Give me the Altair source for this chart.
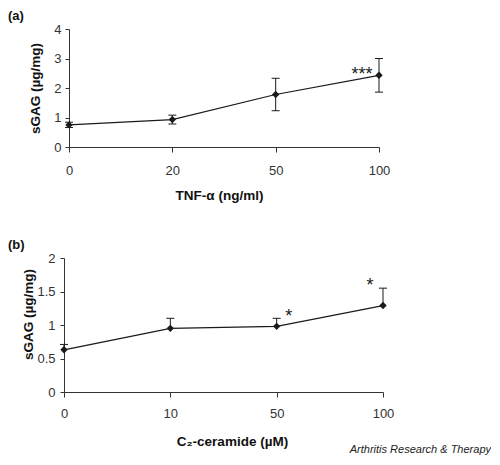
import altair as alt
import pandas as pd

# Panel (a): TNF-alpha
a_dose = ["0", "20", "50", "100"]
a_mean = [0.75, 0.93, 1.78, 2.43]
a_err = [0.09, 0.15, 0.55, 0.57]
a_ann_dose = ["100"]
a_ann_y = [2.45]
a_ann_text = ["***"]

# Panel (b): C2-ceramide
b_dose = ["0", "10", "50", "100"]
b_mean = [0.63, 0.95, 0.98, 1.29]
b_err = [0.08, 0.15, 0.12, 0.26]
b_ann_dose = ["50", "100"]
b_ann_y = [1.12, 1.58]
b_ann_text = ["*", "*"]

FONT = "Liberation Sans"
INK = "#1a1a1a"


def panel(doses, means, errs, both_sides, ann_dose, ann_y, ann_text, ann_dx,
          ymax, yvals, w, h, xrange, yoff, xtitle, xtitle_x, xtitle_y,
          ytitle_x, ytitle_y, tag, xlabpad, ylabpad, footer=None):
    df = pd.DataFrame({
        "dose": doses,
        "mean": means,
        "hi": [m + e for m, e in zip(means, errs)],
        "lo": [m - e if both_sides else m for m, e in zip(means, errs)],
    })
    xaxis = alt.Axis(
        title=xtitle, labelAngle=0, labelFont=FONT, labelFontSize=13,
        labelColor="#333", labelPadding=xlabpad, tickSize=5, tickColor="#333",
        domainColor="#333", titleFont=FONT, titleFontSize=13.5,
        titleFontWeight="bold", titleColor="#111", titleX=xtitle_x,
        titleY=xtitle_y, titleBaseline="middle", grid=False,
    )
    xscale = alt.Scale(type="point", padding=0, range=xrange)
    yscale = alt.Scale(domain=[0, ymax], nice=False)
    yaxis = alt.Axis(
        title="sGAG (µg/mg)", values=yvals, format="~g", offset=yoff,
        labelOverlap=False, labelFont=FONT, labelFontSize=13, labelColor="#333",
        labelPadding=ylabpad, tickSize=4, tickColor="#333", domainColor="#333",
        titleFont=FONT, titleFontSize=13.5, titleFontWeight="bold",
        titleColor="#111", titleX=ytitle_x, titleY=ytitle_y,
        titleBaseline="middle", grid=False,
    )

    def X():
        return alt.X("dose:O", sort=doses, scale=xscale, axis=xaxis)

    def Y(field):
        return alt.Y(field, type="quantitative", scale=yscale, axis=yaxis)

    base = alt.Chart(df)
    line = base.mark_line(color=INK, strokeWidth=1.2).encode(x=X(), y=Y("mean"))
    rule = base.mark_rule(color=INK, strokeWidth=1).encode(x=X(), y=Y("lo"), y2="hi:Q")
    cap_hi = base.mark_tick(color=INK, thickness=1, size=8, opacity=1).encode(
        x=X(), y=Y("hi"))
    layers = [line, rule, cap_hi]
    if both_sides:
        cap_lo = base.mark_tick(color=INK, thickness=1, size=8, opacity=1).encode(
            x=X(), y=Y("lo"))
        layers.append(cap_lo)
    pts = base.mark_point(shape="diamond", filled=True, size=55, color=INK,
                          opacity=1).encode(x=X(), y=Y("mean"))
    layers.append(pts)
    for d, yv, t, dx in zip(ann_dose, ann_y, ann_text, ann_dx):
        adf = pd.DataFrame({"dose": [d], "y": [yv], "t": [t]})
        layers.append(alt.Chart(adf).mark_text(
            font=FONT, fontSize=18, color=INK, dx=dx, baseline="middle").encode(
            x=X(), y=Y("y"), text="t:N"))
    tdf = pd.DataFrame({"t": [tag]})
    layers.append(alt.Chart(tdf).mark_text(
        font=FONT, fontSize=13, fontWeight="bold", color="#111",
        align="left", baseline="middle").encode(
        text="t:N", x=alt.value(-56), y=alt.value(-13)))
    if footer:
        fdf = pd.DataFrame({"t": [footer]})
        layers.append(alt.Chart(fdf).mark_text(
            font=FONT, fontSize=11, fontStyle="italic", color="#222",
            align="right", baseline="middle").encode(
            text="t:N", x=alt.value(427), y=alt.value(h + 58)))
    return alt.layer(*layers).properties(width=w, height=h)


top = panel(a_dose, a_mean, a_err, True, a_ann_dose, a_ann_y, a_ann_text, [-17],
            4, [0, 1, 2, 3, 4], 320, 118, [5, 315], -5, "TNF-α (ng/ml)",
            155, 48, -34, 59, "(a)", 12, 4)
bottom = panel(b_dose, b_mean, b_err, False, b_ann_dose, b_ann_y, b_ann_text, [12, -13],
               2, [0, 0.5, 1, 1.5, 2], 320, 134, [0, 319], 0, "C₂-ceramide (µM)",
               168, 49, -36, 56, "(b)", 10, 5,
               footer="Arthritis Research & Therapy")

chart = alt.vconcat(top, bottom, spacing=37).properties(
    padding={"left": 0, "top": 2, "right": 0, "bottom": 0}).configure_view(stroke=None)

chart.save("out.html", embed_options={"renderer": "svg", "actions": False})
